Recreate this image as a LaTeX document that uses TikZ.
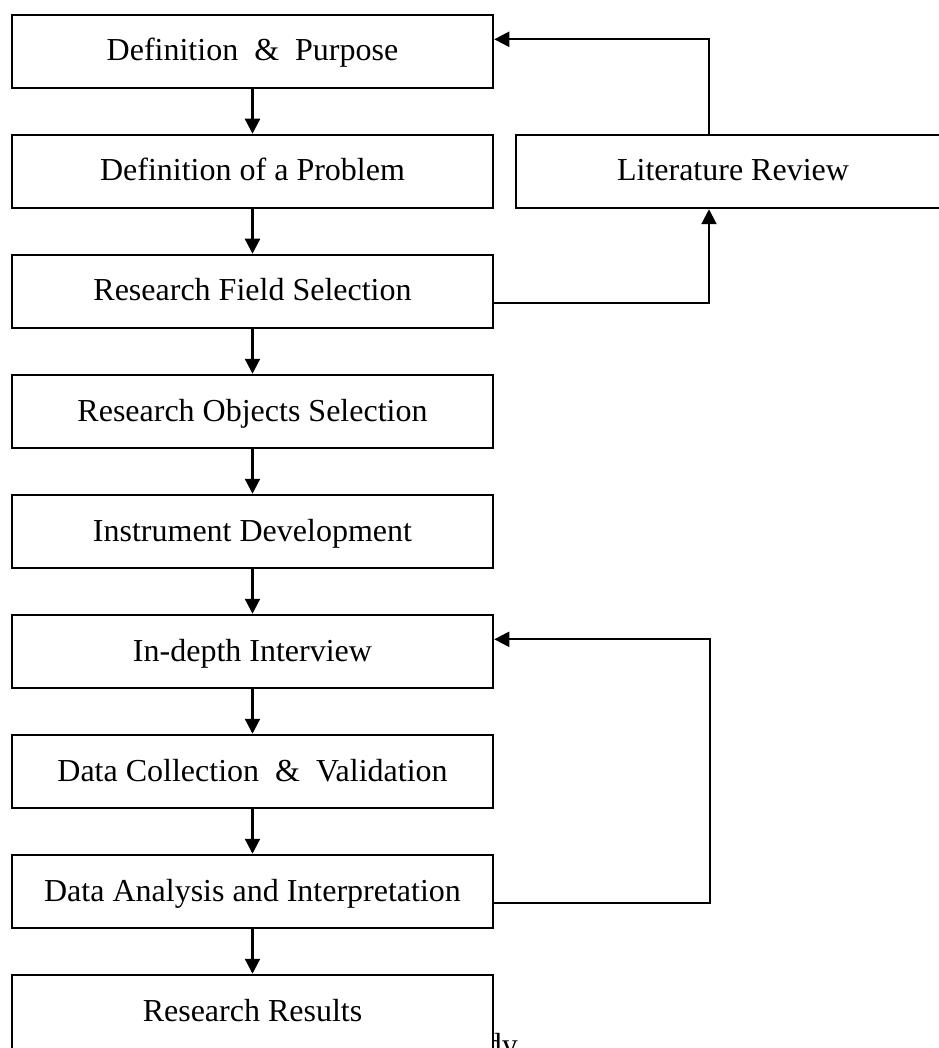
\documentclass[tikz,border=0pt]{standalone}
\usepackage{fontspec}
\setmainfont{Liberation Serif}
\usetikzlibrary{arrows.meta}
\begin{document}
\begin{tikzpicture}[x=1pt,y=-1pt,
  stepbox/.style={draw, line width=2.5pt, fill=white, minimum width=481pt, minimum height=73pt,
    inner sep=0pt, text height=24pt, text depth=5pt, font=\fontsize{32}{38}\selectfont},
  arr/.style={line width=2.2pt, -{Triangle[width=15pt,length=15pt]}}]
\useasboundingbox (0,0) rectangle (938,1048);
\node[anchor=base east, font=\fontsize{32}{38}\selectfont, inner sep=0pt] (cap) at (518,1055) {dy};
\node[stepbox] (def) at (252.5,51.5) {Definition~~\&~~Purpose};
\node[stepbox] (prob) at (252.5,171.5) {Definition of a Problem};
\node[stepbox] (rfs) at (252.5,291.5) {Research Field Selection};
\node[stepbox] (ros) at (252.5,411.5) {Research Objects Selection};
\node[stepbox] (ind) at (252.5,531.5) {Instrument Development};
\node[stepbox] (idi) at (252.5,651.5) {In-depth Interview};
\node[stepbox] (dcv) at (252.5,771.5) {Data Collection~~\&~~Validation};
\node[stepbox] (daa) at (252.5,891.5) {Data Analysis and Interpretation};
\node[stepbox, minimum height=80pt, text depth=10.6pt] (rr) at (252.5,1015) {Research Results};
\node[stepbox, minimum width=434pt] (lr) at (733,171.5) {Literature Review};
\draw[arr] (def.south) -- (prob.north);
\draw[arr] (prob.south) -- (rfs.north);
\draw[arr] (rfs.south) -- (ros.north);
\draw[arr] (ros.south) -- (ind.north);
\draw[arr] (ind.south) -- (idi.north);
\draw[arr] (idi.south) -- (dcv.north);
\draw[arr] (dcv.south) -- (daa.north);
\draw[arr] (daa.south) -- (rr.north);
\draw[arr] ([yshift=-11.5pt]rfs.east) -| ([xshift=-24pt]lr.south);
\draw[arr] ([xshift=-24pt]lr.north) |- ([yshift=12.2pt]def.east);
\draw[arr] ([yshift=-11.5pt]daa.east) -- ++(216,0) |- ([yshift=12.2pt]idi.east);
\end{tikzpicture}
\end{document}
